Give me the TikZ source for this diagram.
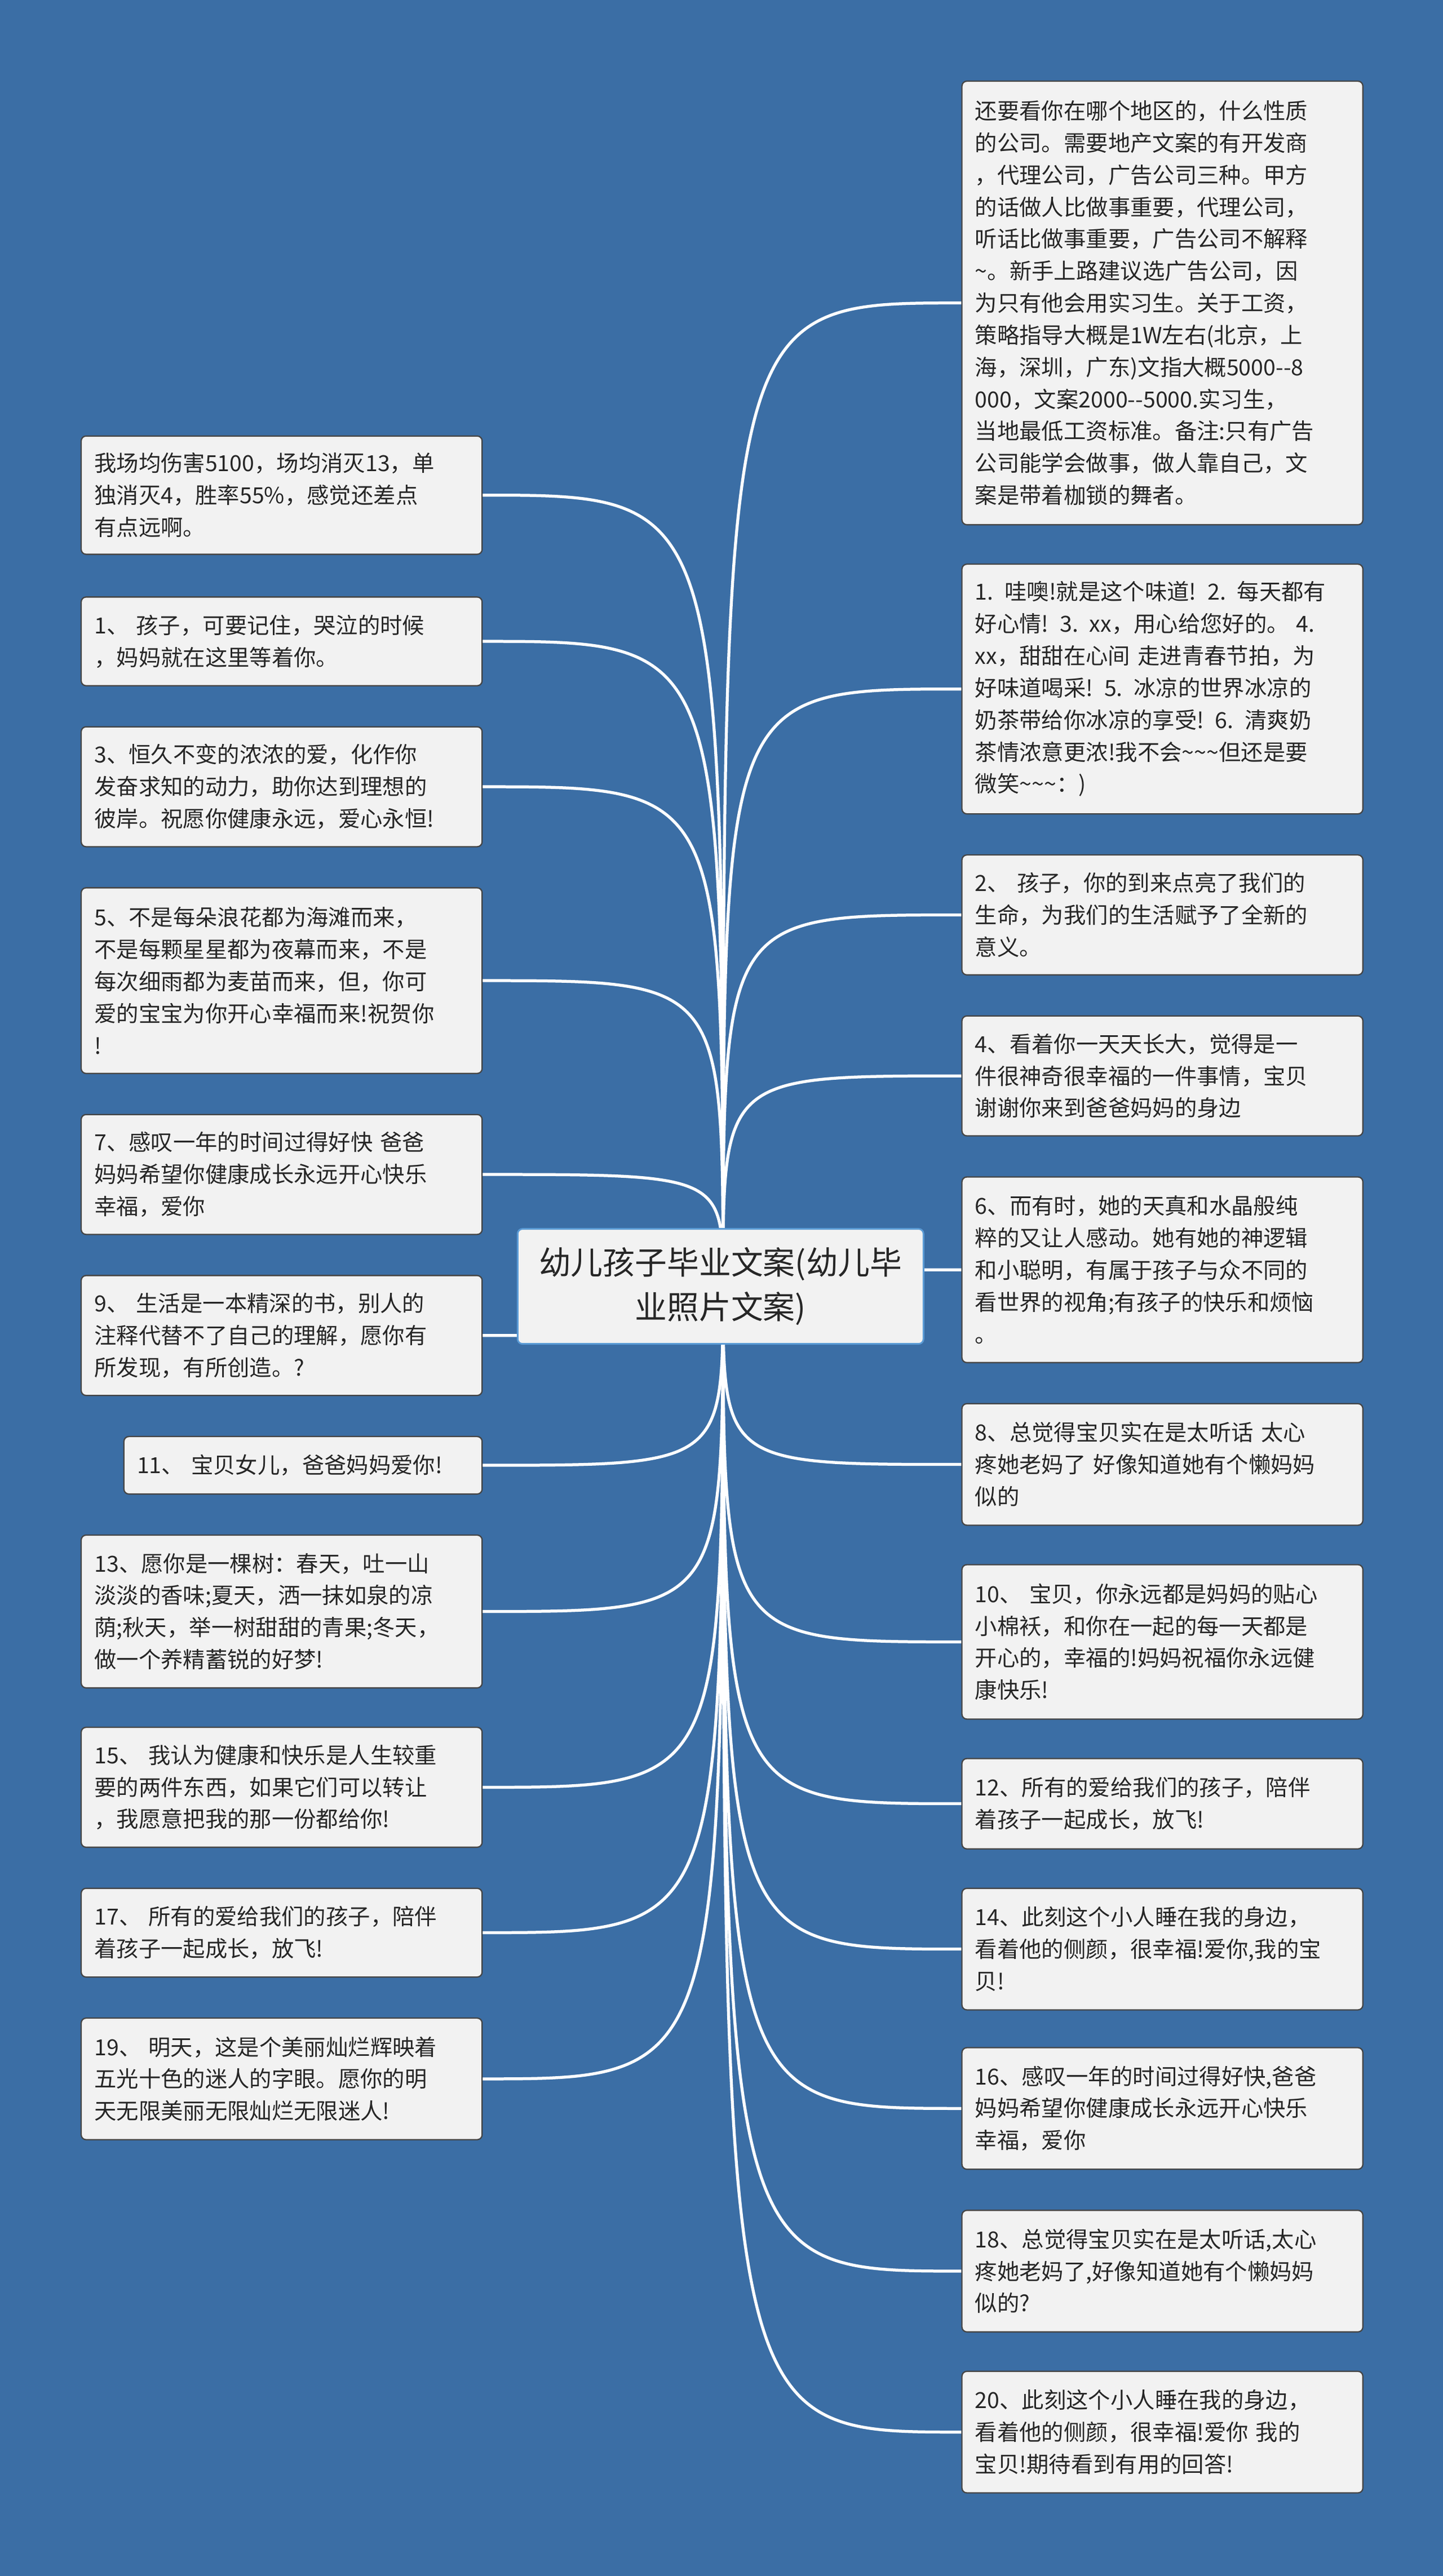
\documentclass[tikz,border=0pt]{standalone}
\usepackage{fontspec}
\setmainfont{Noto Sans CJK SC}
\definecolor{bg}{RGB}{59,110,165}
\definecolor{boxfill}{RGB}{242,242,242}
\definecolor{boxline}{RGB}{70,70,70}
\definecolor{cline}{RGB}{91,155,213}
\tikzset{
 box/.style={draw=boxline, fill=boxfill, rounded corners=3pt, line width=0.8pt, anchor=north west,
   align=left, text width=228pt, inner xsep=8pt, inner ysep=4pt, font=\fontsize{13.5}{19.5}\selectfont, text=black!85},
 conn/.style={draw=white, line width=1.8pt}
}
\newcommand\bx[4]{\node[box, minimum height={(#3)*1pt}] (#1) at (#2) {#4};}
\begin{document}
\begin{tikzpicture}[x=1pt,y=-1pt]
\fill[bg] (0,0) rectangle (878,1568);
\coordinate (hub) at (440,783);
% left
\bx{l1}{49,265}{72}{我场均伤害5100，场均消灭13，单\\独消灭4，胜率55\%，感觉还差点\\有点远啊。}
\bx{l2}{49,363}{54}{1、 孩子，可要记住，哭泣的时候\\，妈妈就在这里等着你。}
\bx{l3}{49,442}{73}{3、恒久不变的浓浓的爱，化作你\\发奋求知的动力，助你达到理想的\\彼岸。祝愿你健康永远，爱心永恒!}
\bx{l4}{49,540}{113}{5、不是每朵浪花都为海滩而来，\\不是每颗星星都为夜幕而来，不是\\每次细雨都为麦苗而来，但，你可\\爱的宝宝为你开心幸福而来!祝贺你\\!}
\bx{l5}{49,678}{73}{7、感叹一年的时间过得好快 爸爸\\妈妈希望你健康成长永远开心快乐\\幸福，爱你}
\bx{l6}{49,776}{73}{9、 生活是一本精深的书，别人的\\注释代替不了自己的理解，愿你有\\所发现，有所创造。?}
\node[box, text width=202pt, minimum height=35pt] (l7) at (75,874) {11、 宝贝女儿，爸爸妈妈爱你!};
\bx{l8}{49,934}{93}{13、愿你是一棵树：春天，吐一山\\淡淡的香味;夏天，洒一抹如泉的凉\\荫;秋天，举一树甜甜的青果;冬天，\\做一个养精蓄锐的好梦!}
\bx{l9}{49,1051}{73}{15、 我认为健康和快乐是人生较重\\要的两件东西，如果它们可以转让\\，我愿意把我的那一份都给你!}
\bx{l10}{49,1149}{54}{17、 所有的爱给我们的孩子，陪伴\\着孩子一起成长，放飞!}
\bx{l11}{49,1228}{74}{19、 明天，这是个美丽灿烂辉映着\\五光十色的迷人的字眼。愿你的明\\天无限美丽无限灿烂无限迷人!}
% right
\bx{r1}{585,49}{270}{还要看你在哪个地区的，什么性质\\的公司。需要地产文案的有开发商\\，代理公司，广告公司三种。甲方\\的话做人比做事重要，代理公司，\\听话比做事重要，广告公司不解释\\\textasciitilde。新手上路建议选广告公司，因\\为只有他会用实习生。关于工资，\\策略指导大概是1W左右(北京，上\\海，深圳，广东)文指大概5000{-}{-}8\\000，文案2000{-}{-}5000.实习生，\\当地最低工资标准。备注:只有广告\\公司能学会做事，做人靠自己，文\\案是带着枷锁的舞者。}
\bx{r2}{585,343}{152}{1. 哇噢!就是这个味道! 2. 每天都有\\好心情! 3. xx，用心给您好的。 4.\\xx，甜甜在心间 走进青春节拍，为\\好味道喝采! 5. 冰凉的世界冰凉的\\奶茶带给你冰凉的享受! 6. 清爽奶\\茶情浓意更浓!我不会\textasciitilde\textasciitilde\textasciitilde 但还是要\\微笑\textasciitilde\textasciitilde\textasciitilde ：)}
\bx{r3}{585,520}{73}{2、 孩子，你的到来点亮了我们的\\生命，为我们的生活赋予了全新的\\意义。}
\bx{r4}{585,618}{73}{4、看着你一天天长大，觉得是一\\件很神奇很幸福的一件事情，宝贝\\谢谢你来到爸爸妈妈的身边}
\bx{r5}{585,716}{113}{6、而有时，她的天真和水晶般纯\\粹的又让人感动。她有她的神逻辑\\和小聪明，有属于孩子与众不同的\\看世界的视角;有孩子的快乐和烦恼\\。}
\bx{r6}{585,854}{74}{8、总觉得宝贝实在是太听话 太心\\疼她老妈了 好像知道她有个懒妈妈\\似的}
\bx{r7}{585,952}{94}{10、 宝贝，你永远都是妈妈的贴心\\小棉袄，和你在一起的每一天都是\\开心的，幸福的!妈妈祝福你永远健\\康快乐!}
\bx{r8}{585,1070}{55}{12、所有的爱给我们的孩子，陪伴\\着孩子一起成长，放飞!}
\bx{r9}{585,1149}{74}{14、此刻这个小人睡在我的身边，\\看着他的侧颜，很幸福!爱你,我的宝\\贝!}
\bx{r10}{585,1246}{74}{16、感叹一年的时间过得好快,爸爸\\妈妈希望你健康成长永远开心快乐\\幸福，爱你}
\bx{r11}{585,1345}{74}{18、总觉得宝贝实在是太听话,太心\\疼她老妈了,好像知道她有个懒妈妈\\似的?}
\bx{r12}{585,1443}{74}{20、此刻这个小人睡在我的身边，\\看着他的侧颜，很幸福!爱你 我的\\宝贝!期待看到有用的回答!}
% connectors
\foreach \n in {l1,l2,l3,l4,l5,l6,l7,l8,l9,l10,l11}{
  \path (\n.east) coordinate (t);
  \draw[conn] (hub) .. controls (hub|-t) .. (t);
}
\foreach \n in {r1,r2,r3,r4,r5,r6,r7,r8,r9,r10,r11,r12}{
  \path (\n.west) coordinate (t);
  \draw[conn] (hub) .. controls (hub|-t) .. (t);
}
\node[draw=cline, fill=boxfill, rounded corners=3pt, line width=1pt, minimum width=247pt, minimum height=70pt,
  align=center, font=\fontsize{19.5}{27}\selectfont, text=black!85] (c) at (438.5,783) {幼儿孩子毕业文案(幼儿毕\\业照片文案)};
\end{tikzpicture}
\end{document}
